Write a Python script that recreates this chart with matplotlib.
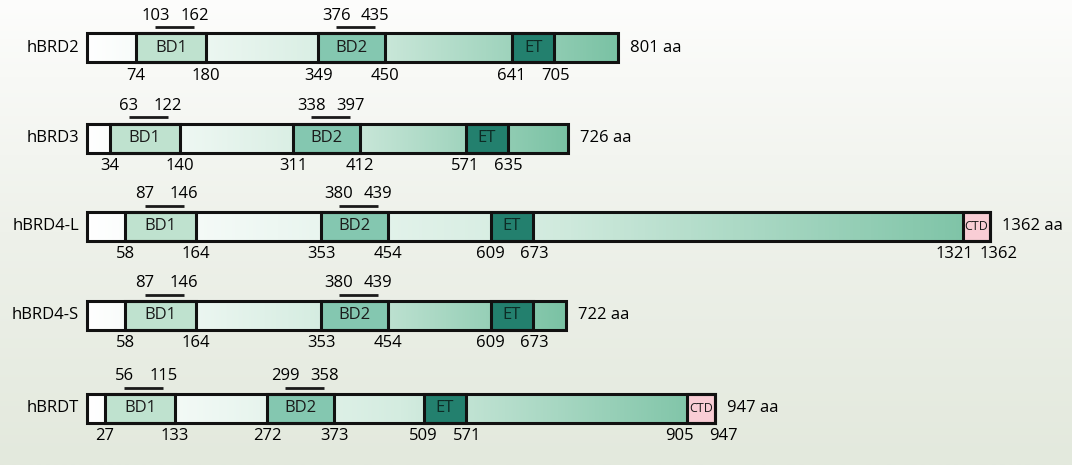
import numpy as np
import matplotlib.pyplot as plt
from matplotlib.patches import Rectangle
from matplotlib.colors import LinearSegmentedColormap

plt.rcParams['font.family'] = ['Open Sans', 'DejaVu Sans']

# domain boundaries (amino-acid positions)
proteins = ['hBRD2', 'hBRD3', 'hBRD4-L', 'hBRD4-S', 'hBRDT']
lengths = [801, 726, 1362, 722, 947]
bd1 = [(74, 180), (34, 140), (58, 164), (58, 164), (27, 133)]
bd2 = [(349, 450), (311, 412), (353, 454), (353, 454), (272, 373)]
et = [(641, 705), (571, 635), (609, 673), (609, 673), (509, 571)]
ctd = [None, None, (1321, 1362), None, (905, 947)]
bd1_core = [(103, 162), (63, 122), (87, 146), (87, 146), (56, 115)]
bd2_core = [(376, 435), (338, 397), (380, 439), (380, 439), (299, 358)]

W, H = 1072, 465
x0_px = 87          # pixel where residue 0 sits
px_per_aa = 0.663
row_y = [48, 138, 226, 315, 408]
bar_h = 29

fig = plt.figure(figsize=(W / 100, H / 100), dpi=100)
ax = fig.add_axes([0, 0, 1, 1])
ax.set_xlim(-x0_px / px_per_aa, (W - x0_px) / px_per_aa)
ax.set_ylim(H, 0)
ax.axis('off')

# background: white at top fading to pale grey-green
bg = LinearSegmentedColormap.from_list('bg', ['#fdfdfc', '#eef1ea', '#e3e9dd'])
ax.imshow(np.linspace(0, 1, 256).reshape(-1, 1), cmap=bg, aspect='auto',
          extent=(*ax.get_xlim(), H, 0), zorder=0)

bar_cmap = LinearSegmentedColormap.from_list('bar', ['#ffffff', '#d4ece0', '#7ac2a4'])
lw = 2.2
fs = 12


def spread(vals, min_px):
    # push neighbouring labels apart so they don't overlap
    pos = [float(v) for v in vals]
    for i in range(len(pos) - 1):
        gap = (pos[i + 1] - pos[i]) * px_per_aa
        if gap < min_px:
            mid = (pos[i] + pos[i + 1]) / 2
            half = min_px / 2 / px_per_aa
            pos[i], pos[i + 1] = mid - half, mid + half
    return pos


for i, name in enumerate(proteins):
    yc = row_y[i]
    L = lengths[i]
    top, bot = yc - bar_h / 2, yc + bar_h / 2

    ax.imshow(np.linspace(0, 1, 256).reshape(1, -1), cmap=bar_cmap, aspect='auto',
              extent=(0, L, bot, top), zorder=1)

    doms = [(bd1[i], 'BD1', '#bfe2cf', '#1a1a1a'),
            (bd2[i], 'BD2', '#84c7b0', '#1a1a1a'),
            (et[i], 'ET', '#23806e', '#0d2b25')]
    if ctd[i] is not None:
        doms.append((ctd[i], 'CTD', '#f9cdd5', '#1a1a1a'))
    for (s, e), lab, col, tc in doms:
        ax.add_patch(Rectangle((s, top), e - s, bar_h, facecolor=col,
                               edgecolor='#111111', lw=lw, zorder=2))
        ax.text((s + e) / 2, yc, lab, ha='center', va='center',
                fontsize=fs if lab != 'CTD' else 9, color=tc, zorder=4)

    ax.add_patch(Rectangle((0, top), L, bar_h, facecolor='none',
                           edgecolor='#111111', lw=lw, zorder=3))

    ax.text(-8 / px_per_aa, yc, name, ha='right', va='center', fontsize=fs)
    ax.text(L + 12 / px_per_aa, yc, f'{L} aa', ha='left', va='center', fontsize=fs)

    # boundary numbers under the bar
    ticks = [bd1[i][0], bd1[i][1], bd2[i][0], bd2[i][1], et[i][0], et[i][1]]
    if ctd[i] is not None:
        ticks += [ctd[i][0], ctd[i][1]]
    for v, p in zip(ticks, spread(ticks, 44)):
        ax.text(p, yc + 28, str(v), ha='center', va='center', fontsize=fs)

    # bromodomain core lines above the bar
    for s, e in (bd1_core[i], bd2_core[i]):
        ax.plot([s, e], [top - 6, top - 6], color='#1a1a1a', lw=2.0,
                solid_capstyle='butt', zorder=3)
        ax.text(s, yc - 32, str(s), ha='center', va='center', fontsize=fs)
        ax.text(e, yc - 32, str(e), ha='center', va='center', fontsize=fs)

fig.savefig('out.png', dpi=100)
